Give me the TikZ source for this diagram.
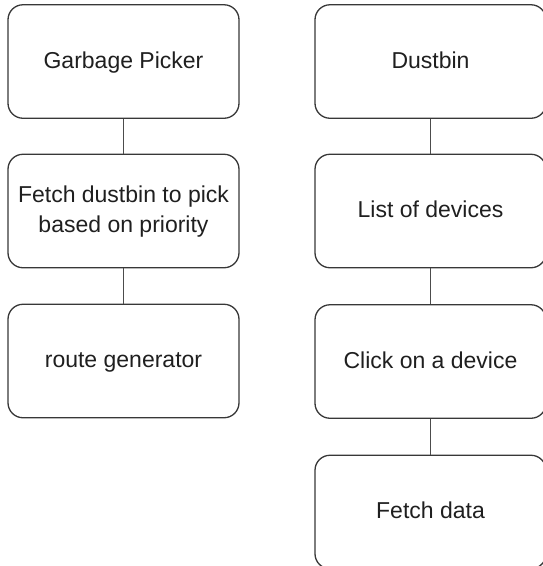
\documentclass[tikz,border=0pt]{standalone}
\usepackage{fontspec}
\setmainfont{Liberation Sans}
% fixed line strut so every label sits at the same height in its box
\newcommand\lnstrut{\rule[-7pt]{0pt}{27pt}}
\begin{document}
\begin{tikzpicture}[x=1pt,y=-1pt,
  flowbox/.style={draw=black!78, line width=1.3pt, rounded corners=15pt,
    minimum width=231pt, minimum height=113.5pt, inner sep=0pt,
    align=center, text=black!88, font=\fontsize{23}{30}\selectfont},
  link/.style={draw=black!70, line width=1.3pt}]
\useasboundingbox (0,0) rectangle (542,566);
% left column: garbage picker flow
\node[flowbox] (gp) at (123.5,61.5) {\lnstrut Garbage Picker};
\node[flowbox] (fd) at (123.5,211) {\lnstrut Fetch dustbin to pick\\\lnstrut based on priority};
\node[flowbox] (rg) at (123.5,361) {\lnstrut route generator};
% right column: dustbin flow
\node[flowbox] (db) at (430.5,61.5) {\lnstrut Dustbin};
\node[flowbox] (ld) at (430.5,211) {\lnstrut List of devices};
\node[flowbox] (cd) at (430.5,361.5) {\lnstrut Click on a device};
\node[flowbox] (fe) at (430.5,512) {\lnstrut Fetch data};
% connectors
\draw[link] (gp) -- (fd);
\draw[link] (fd) -- (rg);
\draw[link] (db) -- (ld);
\draw[link] (ld) -- (cd);
\draw[link] (cd) -- (fe);
\end{tikzpicture}
\end{document}
